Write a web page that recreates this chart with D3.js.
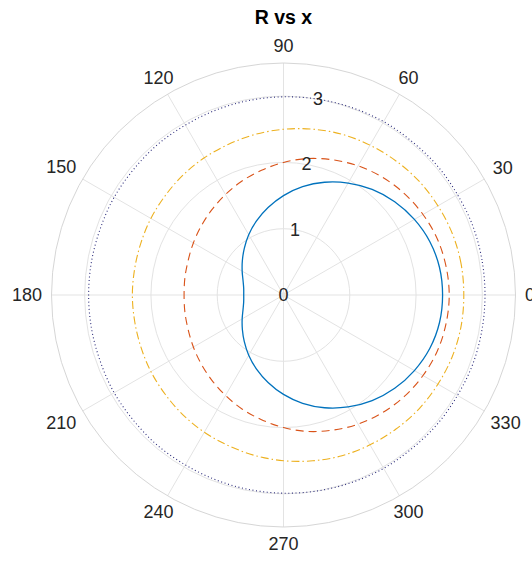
<!DOCTYPE html>
<html>
<head>
<meta charset="utf-8">
<script src="https://cdn.jsdelivr.net/npm/d3@7"></script>
<style>
  html, body { margin: 0; padding: 0; background: #fff; }
  svg { display: block; }
  text { font-family: "Liberation Sans", Arial, Helvetica, sans-serif; }
</style>
</head>
<body>
<svg id="chart" width="532" height="563"></svg>
<script>
const titleText = "R vs x";
const thetaDeg = [0,10,20,30,40,50,60,70,80,90,100,110,120,130,140,150,160,170,180,
                  190,200,210,220,230,240,250,260,270,280,290,300,310,320,330,340,350];
const rSolid  = [2.40,2.39,2.35,2.28,2.19,2.08,1.95,1.81,1.66,1.50,1.34,1.19,1.05,0.92,0.81,0.72,0.65,0.61,0.60,
                 0.61,0.65,0.72,0.81,0.92,1.05,1.19,1.34,1.50,1.66,1.81,1.95,2.08,2.19,2.28,2.35,2.39];
const rDashed = [2.50,2.49,2.47,2.43,2.38,2.32,2.25,2.17,2.09,2.00,1.91,1.83,1.75,1.68,1.62,1.57,1.53,1.51,1.50,
                 1.51,1.53,1.57,1.62,1.68,1.75,1.83,1.91,2.00,2.09,2.17,2.25,2.32,2.38,2.43,2.47,2.49];
const rDashDot = [2.72,2.72,2.71,2.69,2.67,2.64,2.61,2.58,2.54,2.50,2.46,2.42,2.39,2.36,2.33,2.31,2.29,2.28,2.28,
                  2.28,2.29,2.31,2.33,2.36,2.39,2.42,2.46,2.50,2.54,2.58,2.61,2.64,2.67,2.69,2.71,2.72];
const rDotted = [3.04,3.04,3.04,3.03,3.03,3.02,3.02,3.01,3.00,2.99,2.98,2.97,2.96,2.96,2.95,2.95,2.94,2.94,2.94,
                 2.94,2.94,2.95,2.95,2.96,2.96,2.97,2.98,2.99,3.00,3.01,3.02,3.02,3.03,3.03,3.04,3.04];
const rTicks = [0,1,2,3];
const rLimit = 3.5;
const thetaTicks = [0,30,60,90,120,150,180,210,240,270,300,330];

const svg = d3.select("#chart");
const cx = 283.5, cy = 295, R = 232;
const rScale = d3.scaleLinear().domain([0, rLimit]).range([0, R]);
// math angle (deg, ccw from east) -> d3 radial angle (rad, cw from north)
const aScale = d3.scaleLinear().domain([0, 360]).range([Math.PI / 2, Math.PI / 2 - 2 * Math.PI]);

const g = svg.append("g").attr("transform", `translate(${cx},${cy})`);
const gridColor = "#e3e3e3";

// spokes
g.selectAll("line.spoke").data(thetaTicks).enter().append("line")
  .attr("x1", 0).attr("y1", 0)
  .attr("x2", d => R * Math.cos(d * Math.PI / 180))
  .attr("y2", d => -R * Math.sin(d * Math.PI / 180))
  .attr("stroke", gridColor).attr("stroke-width", 1);

// circles
g.selectAll("circle.grid").data(rTicks.filter(d => d > 0)).enter().append("circle")
  .attr("r", d => rScale(d)).attr("fill", "none")
  .attr("stroke", gridColor).attr("stroke-width", 1);
g.append("circle").attr("r", rScale(rLimit)).attr("fill", "none")
  .attr("stroke", "#d6d6d6").attr("stroke-width", 1);

// series
const series = [
  { r: rDotted, color: "#2b2b7a", dash: "1,2.6", width: 1.1 },
  { r: rDashDot, color: "#EDB120", dash: "8,3,1.5,3", width: 1.1 },
  { r: rDashed, color: "#D95319", dash: "8,5", width: 1.1 },
  { r: rSolid, color: "#0072BD", dash: null, width: 1.3 }
];
const line = d3.lineRadial().curve(d3.curveCatmullRomClosed.alpha(0.5));
series.forEach(s => {
  const pts = thetaDeg.map((t, i) => [aScale(t), rScale(s.r[i])]);
  g.append("path").attr("d", line.angle(d => d[0]).radius(d => d[1])(pts))
    .attr("fill", "none").attr("stroke", s.color)
    .attr("stroke-width", s.width)
    .attr("stroke-dasharray", s.dash);
});

// theta labels
const fs = 18;
thetaTicks.forEach(t => {
  const a = t * Math.PI / 180;
  const c = Math.cos(a), s = Math.sin(a);
  const txt = g.append("text").text(String(t))
    .attr("font-size", fs).attr("fill", "#262626")
    .attr("text-anchor", "middle").attr("dominant-baseline", "central");
  const w = txt.node().getComputedTextLength();
  const hw = w / 2, hh = 7.5;
  const off = Math.min(Math.abs(c) > 1e-6 ? hw / Math.abs(c) : 1e9, Math.abs(s) > 1e-6 ? hh / Math.abs(s) : 1e9);
  const d = R + 9.5 + off;
  txt.attr("x", d * c).attr("y", -d * s);
});

// r tick labels
const rLabAngle = 80 * Math.PI / 180;
rTicks.forEach(v => {
  const d = rScale(v);
  g.append("text").text(String(v))
    .attr("x", d * Math.cos(rLabAngle)).attr("y", -d * Math.sin(rLabAngle))
    .attr("font-size", fs).attr("fill", "#262626")
    .attr("text-anchor", "middle").attr("dominant-baseline", "central");
});

// title
svg.append("text").text(titleText)
  .attr("x", cx).attr("y", 24)
  .attr("text-anchor", "middle")
  .attr("font-size", 19.5).attr("font-weight", "bold").attr("fill", "#000");
</script>
</body>
</html>
